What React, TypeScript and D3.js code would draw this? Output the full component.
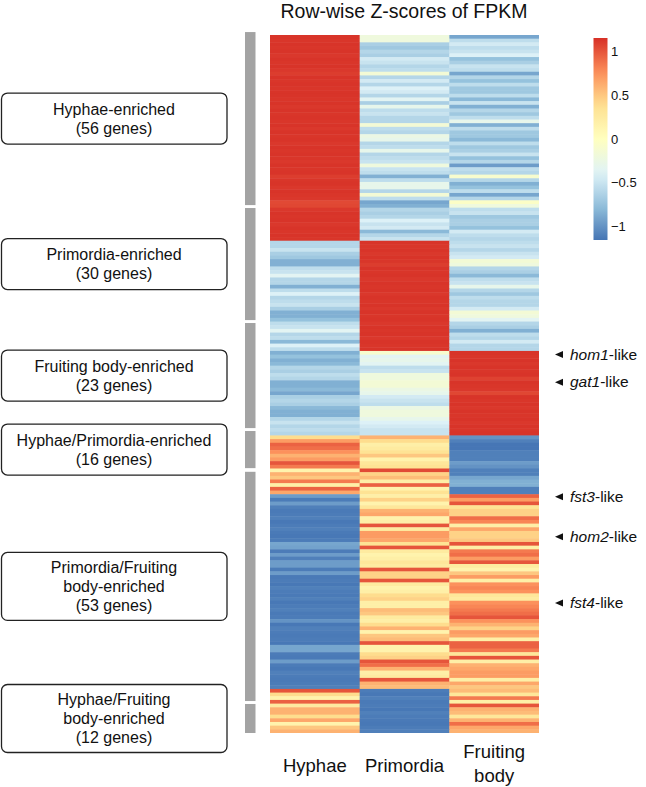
import React from "react";
import * as d3 from "d3";

// ---------- data ----------
const samples = ["Hyphae", "Primordia", "Fruiting body"];

const groupLabels: string[][] = [
  ["Hyphae-enriched", "(56 genes)"],
  ["Primordia-enriched", "(30 genes)"],
  ["Fruiting body-enriched", "(23 genes)"],
  ["Hyphae/Primordia-enriched", "(16 genes)"],
  ["Primordia/Fruiting", "body-enriched", "(53 genes)"],
  ["Hyphae/Fruiting", "body-enriched", "(12 genes)"],
];
// extent of the grey bracket beside each group, in heatmap row units
const bracketRows: [number, number][] = [
  [-0.8, 46.3],
  [47.1, 77.6],
  [78.4, 107.0],
  [107.8, 117.9],
  [118.9, 181.3],
  [182.1, 190.0],
];

// Row-wise z-scores: each row is [Hyphae, Primordia, Fruiting body]
const hyphaeEnriched = [
  [1.14, -0.2, -0.9], [1.13, -0.2, -0.55], [1.14, -0.65, -0.45], [1.13, -0.7, -0.55],
  [1.14, -0.6, -0.5], [1.12, -0.65, -0.4], [1.14, -0.45, -0.75], [1.13, -0.5, -0.65],
  [1.14, -0.6, -0.5], [1.12, -0.55, -0.55], [1.1, -0.15, -0.9], [1.14, -0.6, -0.6],
  [1.13, -0.45, -0.75], [1.14, -0.6, -0.55], [1.13, -0.4, -0.7], [1.14, -0.45, -0.7],
  [1.14, -0.6, -0.55], [1.13, -0.35, -0.8], [1.14, -0.65, -0.5], [1.12, -0.3, -0.85],
  [1.14, -0.55, -0.6], [1.13, -0.5, -0.7], [1.14, -0.6, -0.55], [1.13, -0.6, -0.3],
  [1.14, -0.15, -0.85], [1.12, -0.55, -0.55], [1.14, -0.6, -0.7], [1.13, -0.25, -0.7],
  [1.14, -0.3, -0.8], [1.12, -0.6, -0.55], [1.14, -0.55, -0.7], [1.13, -0.3, -0.65],
  [1.14, -0.6, -0.5], [1.13, -0.55, -0.75], [1.12, -0.5, -0.6], [1.14, -0.2, -0.95],
  [1.13, -0.5, -0.55], [1.14, -0.55, -0.6], [1.1, -0.85, -0.1], [1.13, -0.55, -0.6],
  [1.14, -0.3, -0.85], [1.12, -0.3, -0.75], [1.14, -0.6, -0.55], [1.13, -0.15, -0.9],
  [1.12, -0.55, -0.6], [1.05, -0.9, -0.05], [1.06, -0.85, -0.2], [1.12, -0.6, -0.55],
  [1.14, -0.65, -0.5], [1.13, -0.6, -0.7], [1.14, -0.4, -0.65], [1.12, -0.5, -0.65],
  [1.14, -0.45, -0.75], [1.13, -0.8, -0.45], [1.14, -0.6, -0.55], [1.13, -0.5, -0.6],
];
const primordiaEnriched = [
  [-0.6, 1.14, -0.55], [-0.6, 1.13, -0.5], [-0.5, 1.14, -0.6], [-0.65, 1.12, -0.5],
  [-0.7, 1.14, -0.45], [-0.85, 1.13, -0.15], [-0.85, 1.1, -0.2], [-0.55, 1.14, -0.6],
  [-0.5, 1.13, -0.65], [-0.35, 1.14, -0.8], [-0.6, 1.12, -0.55], [-0.6, 1.14, -0.5],
  [-0.85, 1.13, -0.3], [-0.55, 1.14, -0.6], [-0.4, 1.12, -0.7], [-0.6, 1.14, -0.55],
  [-0.55, 1.13, -0.6], [-0.5, 1.14, -0.6], [-0.65, 1.12, -0.45], [-0.85, 1.14, -0.15],
  [-0.85, 1.13, -0.2], [-0.75, 1.14, -0.35], [-0.55, 1.12, -0.6], [-0.5, 1.14, -0.65],
  [-0.35, 1.13, -0.85], [-0.6, 1.14, -0.55], [-0.55, 1.12, -0.6], [-0.8, 1.14, -0.45],
  [-0.4, 1.13, -0.6], [-0.55, 1.14, -0.6],
];
const fruitingEnriched = [
  [-0.85, -0.1, 1.14], [-0.75, -0.35, 1.13], [-0.85, -0.3, 1.14], [-0.8, -0.35, 1.12],
  [-0.6, -0.55, 1.14], [-0.65, -0.5, 1.13], [-0.55, -0.2, 1.14], [-0.6, -0.2, 1.08],
  [-0.85, -0.15, 1.14], [-0.85, -0.15, 1.13], [-0.8, -0.25, 1.12], [-0.9, -0.3, 1.06],
  [-0.65, -0.45, 1.14], [-0.6, -0.5, 1.13], [-0.65, -0.55, 1.14], [-0.8, -0.25, 1.12],
  [-0.85, -0.2, 1.14], [-0.85, -0.2, 1.13], [-0.6, -0.3, 1.14], [-0.5, -0.4, 1.12],
  [-0.6, -0.45, 1.14], [-0.55, -0.5, 1.13], [-0.6, -0.5, 1.14],
];
const hyphaePrimordiaEnriched = [
  [0.4, 0.6, -1.0], [0.7, 0.4, -1.1], [0.95, 0.2, -1.15], [0.9, 0.25, -1.15],
  [0.75, 0.35, -1.1], [0.6, 0.5, -1.1], [0.7, 0.15, -1.1], [1.0, 0.3, -0.95],
  [0.85, 0.35, -1.0], [0.15, 1.05, -1.1], [0.6, 0.45, -1.1], [0.5, 0.55, -0.9],
  [0.85, 0.2, -0.85], [0.2, 0.95, -0.85], [0.95, 0.15, -1.1], [0.65, 0.35, -1.1],
];
const primordiaFruitingEnriched = [
  [-0.95, 0.2, 0.95], [-1.12, 0.45, 0.7], [-0.95, 0.15, 1.0], [-1.1, 0.3, 0.35],
  [-1.13, 0.6, 0.45], [-1.12, 0.65, 0.45], [-1.1, 0.15, 0.9], [-1.14, 0.2, 0.8],
  [-1.12, 1.0, 0.2], [-1.1, 0.25, 0.65], [-1.13, 0.7, 0.45], [-1.14, 0.7, 0.45],
  [-1.12, 0.65, 0.5], [-0.9, 0.35, 1.0], [-0.92, 1.0, 0.2], [-1.12, 0.25, 0.85],
  [-0.95, 0.15, 0.9], [-1.1, 0.2, 0.7], [-0.95, 0.3, 1.0], [-0.95, 0.25, 0.25],
  [-1.12, 1.0, 0.15], [-0.95, 0.45, 0.5], [-1.13, 0.45, 0.7], [-1.12, 1.0, 0.2],
  [-1.14, 0.25, 0.75], [-1.1, 0.15, 0.8], [-1.12, 0.2, 0.75], [-1.13, 0.4, 0.3],
  [-1.1, 0.45, 0.25], [-1.14, 0.2, 0.75], [-1.12, 0.2, 0.8], [-1.1, 0.55, 0.85],
  [-1.13, 0.5, 0.9], [-1.12, 0.25, 1.0], [-1.0, 0.2, 0.75], [-1.14, 0.4, 0.6],
  [-1.1, 0.6, 0.45], [-1.12, 0.15, 0.7], [-1.13, 0.5, 0.65], [-1.12, 0.55, 0.2],
  [-1.14, 1.0, 0.95], [-0.9, 0.15, 0.95], [-0.9, 0.15, 0.85], [-1.12, 0.4, 0.3],
  [-1.13, 0.45, 1.0], [-0.95, 1.0, 0.2], [-1.12, 0.9, 0.6], [-1.14, 0.6, 0.65],
  [-1.1, 0.2, 0.7], [-1.12, 0.25, 0.7], [-1.13, 1.0, 0.2], [-1.12, 0.6, 0.65],
  [-1.1, 0.55, 0.5],
];
const hyphaeFruitingEnriched = [
  [1.0, -1.12, 0.55], [0.4, -1.14, 0.3], [0.15, -1.1, 0.85], [0.95, -1.13, 0.2],
  [0.25, -1.12, 1.0], [0.6, -1.14, 0.6], [0.6, -1.1, 0.55], [0.4, -1.12, 0.3],
  [0.65, -1.13, 0.6], [0.15, -1.14, 0.9], [0.5, -1.12, 0.65], [0.6, -1.1, 0.6],
];

const legendTicks = [1, 0.5, 0, -0.5, -1];
const palette = ["#4575b4", "#91bfdb", "#e0f3f8", "#ffffbf", "#fee090", "#fc8d59", "#d73027"];
const zMin = -1.155;
const zMax = 1.155;

const markers = [
  { gene: "hom1", row: 87 },
  { gene: "gat1", row: 94.5 },
  { gene: "fst3", row: 125.7 },
  { gene: "hom2", row: 136.6 },
  { gene: "fst4", row: 154.6 },
];

// ---------- layout ----------
const W = 646;
const H = 787;
const FONT = "'Liberation Sans', Arial, Helvetica, sans-serif";

export default function App() {
  const groups = [
    hyphaeEnriched,
    primordiaEnriched,
    fruitingEnriched,
    hyphaePrimordiaEnriched,
    primordiaFruitingEnriched,
    hyphaeFruitingEnriched,
  ];
  const rows = groups.flat();
  const nRows = rows.length;

  const x = d3.scaleBand<string>().domain(samples).range([270, 539]);
  const y = d3.scaleBand<number>().domain(d3.range(nRows)).range([35, 733]);
  const rowPos = d3.scaleLinear().domain([0, nRows]).range([35, 733]);

  const stops = d3.range(palette.length).map((i) => zMin + (i * (zMax - zMin)) / (palette.length - 1));
  const color = d3.scaleLinear<string>().domain(stops).range(palette).interpolate(d3.interpolateRgb).clamp(true);

  const legY = d3.scaleLinear().domain([zMin, zMax]).range([240, 38]);
  const gradStops = d3.range(0, 1.0001, 0.05);

  const fmt = (v: number) => (v < 0 ? "\u2212" + Math.abs(v) : String(v));

  return (
    <svg
      width={W}
      height={H}
      style={{ position: "absolute", left: 0, top: 0, background: "#fff" }}
      fontFamily={FONT}
    >
      <defs>
        <linearGradient id="legGrad" x1="0" y1="1" x2="0" y2="0">
          {gradStops.map((t) => (
            <stop key={t} offset={t} stopColor={color(zMin + t * (zMax - zMin))} />
          ))}
        </linearGradient>
      </defs>

      <text x={404} y={18} textAnchor="middle" fontSize={19.5} fill="#111">
        Row-wise Z-scores of FPKM
      </text>

      {/* heatmap */}
      <g>
        {rows.map((row, ri) =>
          row.map((v, ci) => (
            <rect
              key={ci + "-" + ri}
              x={x(samples[ci])!}
              y={y(ri)!}
              width={x.bandwidth() + (ci < 2 ? 0.4 : 0)}
              height={y.bandwidth() + (ri < nRows - 1 ? 0.5 : 0)}
              fill={color(v)}
            />
          ))
        )}
      </g>

      {/* grey brackets and boxes */}
      {bracketRows.map(([a, b], i) => {
        const y0 = rowPos(a);
        const y1 = rowPos(b);
        const cy = (y0 + y1) / 2;
        const lines = groupLabels[i];
        const bh = lines.length === 2 ? 51 : 68;
        const lh = 19;
        const first = cy - ((lines.length - 1) * lh) / 2 + 5.5;
        return (
          <g key={"b" + i}>
            <rect x={245} y={y0} width={10.5} height={y1 - y0} fill="#a3a3a3" />
            <rect x={1.5} y={cy - bh / 2} width={225.5} height={bh} rx={6} ry={6} fill="#fff" stroke="#222" strokeWidth={1.3} />
            {lines.map((t, li) => (
              <text key={li} x={114} y={first + li * lh} textAnchor="middle" fontSize={16} fill="#111">
                {t}
              </text>
            ))}
          </g>
        );
      })}

      {/* column labels */}
      <text x={x("Hyphae")! + x.bandwidth() / 2} y={771.5} textAnchor="middle" fontSize={18.5} fill="#111">
        Hyphae
      </text>
      <text x={x("Primordia")! + x.bandwidth() / 2} y={771.5} textAnchor="middle" fontSize={18.5} fill="#111">
        Primordia
      </text>
      <text x={x("Fruiting body")! + x.bandwidth() / 2} y={757.5} textAnchor="middle" fontSize={18.5} fill="#111">
        Fruiting
      </text>
      <text x={x("Fruiting body")! + x.bandwidth() / 2} y={781.5} textAnchor="middle" fontSize={18.5} fill="#111">
        body
      </text>

      {/* markers */}
      {markers.map((m) => {
        const cy = rowPos(m.row);
        return (
          <g key={m.gene}>
            <path d={`M555,${cy} L563,${cy - 3.5} L563,${cy + 3.5} Z`} fill="#111" />
            <text x={570} y={cy + 5} fontSize={15.5} fill="#111">
              <tspan fontStyle="italic">{m.gene}</tspan>-like
            </text>
          </g>
        );
      })}

      {/* legend */}
      <rect x={593.5} y={38} width={14} height={202} fill="url(#legGrad)" />
      {legendTicks.map((t) => (
        <text key={t} x={611} y={legY(t) + 4.5} fontSize={13} fill="#111">
          {fmt(t)}
        </text>
      ))}
    </svg>
  );
}
